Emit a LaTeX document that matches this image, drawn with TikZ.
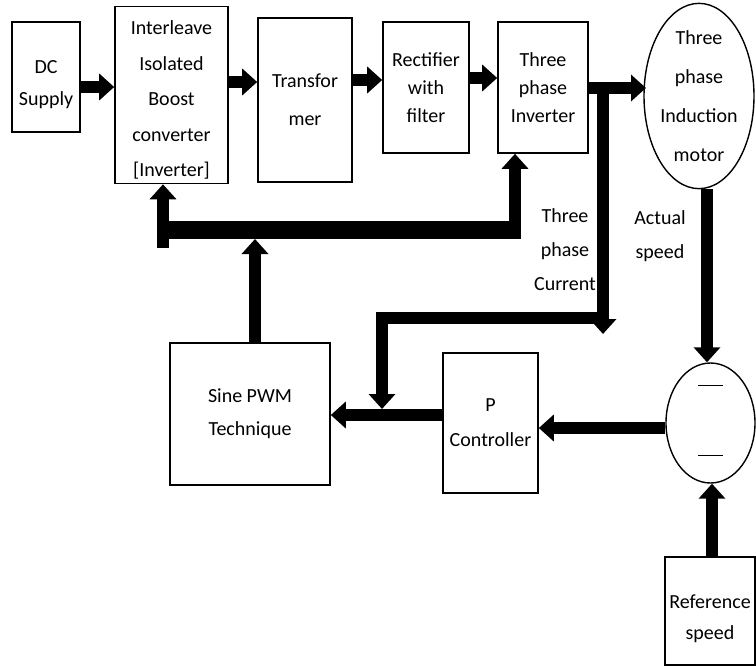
\documentclass[tikz,border=0pt]{standalone}
\usepackage{fontspec}
\setmainfont{Carlito}
\usetikzlibrary{arrows.meta, shapes.geometric}
\tikzset{
    gap/.style={font=\fontsize{20}{#1}\selectfont}, % text size and line spacing
    block/.style={draw, line width=1.6pt, align=center, inner sep=2pt, gap=32}, % every box of the chain
    round/.style={ellipse, draw, line width=1.4pt, align=center, inner sep=0pt, gap=39}, % motor and summing point
    flow/.style={line width=12pt, -{Triangle[length=15pt, width=26pt]}}, % fat arrows
    bus/.style={line width=12pt, line join=miter}, % fat lines without a head
    txt/.style={align=center, gap=34},
}
\newcommand{\pushdown}[1]{\rule{0pt}{#1}} % pushes the text of a box down
\begin{document}
\begin{tikzpicture}[x=1pt, y=-1pt]
    \useasboundingbox (0,0) rectangle (756,667);
    % forward chain
    \node[block, minimum width=68pt, minimum height=110pt] (dc) at (46,77) {\pushdown{29pt}DC\\Supply};
    \node[block, gap=35.5, minimum width=113pt, minimum height=177pt] (ibc) at (171.5,95)
        {\pushdown{24pt}Interleave\\Isolated\\Boost\\converter\\{[}Inverter{]}};
    \node[block, gap=38, minimum width=94pt, minimum height=164pt] (tr) at (305,100) {Transfor\\mer};
    \node[block, gap=28, minimum width=86pt, minimum height=131pt] (rect) at (426,87.5) {Rectifier\\with\\filter};
    \node[block, gap=28, minimum width=90pt, minimum height=131pt] (inv) at (543,87.5) {Three\\phase\\Inverter};
    \node[round, minimum width=110pt, minimum height=172pt] (motor) at (699,96) {Three\\phase\\Induction\\motor};
    % control part
    \node[block, gap=33, minimum width=160pt, minimum height=142pt] (pwm) at (250,414) {Sine PWM\\Technique};
    \node[block, gap=35, minimum width=95pt, minimum height=140pt] (pc) at (490.5,423) {P\\Controller};
    \node[round, minimum width=89pt, minimum height=120pt] (sum) at (710.5,423) {};
    \node[block, gap=31, minimum width=90pt, minimum height=108pt] (ref) at (710,611) {\pushdown{29pt}Reference\\speed};
    \draw[line width=1pt] (698,385) -- (723,385) (698,455) -- (723,455);
    % labels
    \node[txt] (lcur) at (565,250) {Three\\phase\\Current};
    \node[txt] (lspd) at (660,236) {Actual\\speed};
    % junctions
    \coordinate (tap) at (603,88);
    \coordinate (tapd) at (603,334);
    \coordinate (cr) at (609,318);
    \coordinate (cl) at (382,318);
    \coordinate (cd) at (382,409);
    \coordinate (fr) at (521,230);
    \coordinate (fl) at (157,230);
    \draw[flow] (dc.east |- 0,87) -- (ibc.west |- 0,87);
    \draw[flow] (ibc.east |- 0,82) -- (tr.west |- 0,82);
    \draw[flow] (tr.east |- 0,80) -- (rect.west |- 0,80);
    \draw[flow] (rect.east |- 0,78) -- (inv.west |- 0,78);
    \draw[flow] (inv.east |- 0,88) -- (646,88);
    \draw[flow] (tap) -- (tapd);
    \draw[bus, -{Triangle[length=15pt, width=26pt]}] (cr) -- (cl) -- (cd);
    % feedback to the switches
    \draw[line width=18pt] (fl) -- (fr);
    \draw[flow] (515,239) -- (515,0 |- inv.south);
    \draw[flow] (163,248) -- (163,0 |- ibc.south);
    \draw[flow] (255,0 |- pwm.north) -- (255,239);
    % speed loop
    \draw[flow] (707,0 |- motor.south) -- (707,0 |- sum.north);
    \draw[flow] (712,0 |- ref.north) -- (712,0 |- sum.south);
    \draw[flow] (sum.west |- 0,428) -- (pc.east |- 0,428);
    \draw[flow] (pc.west |- 0,415) -- (pwm.east |- 0,415);
\end{tikzpicture}
\end{document}
